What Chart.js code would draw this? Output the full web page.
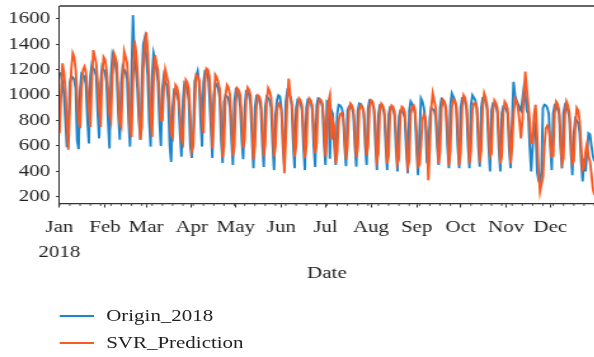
<!DOCTYPE html>
<html>
<head>
<meta charset="utf-8">
<script src="https://cdn.jsdelivr.net/npm/chart.js@4.4.1/dist/chart.umd.min.js"></script>
<style>
  html, body { margin: 0; padding: 0; background: #fff; overflow: hidden; }
  /* the reference figure is stretched horizontally, so draw narrow and widen */
  #stage { position: relative; width: 468px; height: 357px; transform: scaleX(1.27); transform-origin: 0 0; }
  #legend { position: absolute; left: 46.5px; top: 302.5px; font: 16.5px "Liberation Serif", serif; color: #231f20; }
  .item { display: flex; align-items: center; height: 27px; white-space: nowrap; }
  .swatch { width: 27.6px; height: 2px; margin-right: 9.5px; }
</style>
</head>
<body>
<div id="stage">
  <canvas id="svrChart" width="468" height="300"></canvas>
  <div id="legend"></div>
</div>
<script>
// x positions: day of year 2018 (0 = 1 Jan, a Monday)
const days = Array.from({ length: 365 }, (_, i) => i);
const monthStarts = [0, 31, 59, 90, 120, 151, 181, 212, 243, 273, 304, 334];
const monthLabels = ['Jan', 'Feb', 'Mar', 'Apr', 'May', 'Jun', 'Jul', 'Aug', 'Sep', 'Oct', 'Nov', 'Dec'];
const yearLabel = '2018';
const yTicks = [200, 400, 600, 800, 1000, 1200, 1400, 1600];

// one row per week, Mon..Sun
const origin2018 = [
  1180, 1160, 1100, 1000, 800, 590, 720,
  1100, 1150, 1140, 1120, 1050, 640, 575,
  1050, 1170, 1160, 1140, 1080, 800, 620,
  1150, 1240, 1210, 1190, 1150, 850, 660,
  1100, 1225, 1200, 1180, 1100, 800, 580,
  1150, 1320, 1280, 1250, 1150, 850, 650,
  1100, 1225, 1200, 1180, 1120, 800, 595,
  1150, 1630, 1300, 1200, 1050, 800, 650,
  1100, 1400, 1450, 1300, 1150, 800, 595,
  1150, 1330, 1280, 1200, 1100, 800, 600,
  1050, 1150, 1100, 1080, 950, 600, 475,
  900, 1040, 1030, 1000, 950, 700, 515,
  950, 1095, 1080, 1050, 950, 600, 505,
  700, 1110, 1150, 1190, 1100, 800, 595,
  1100, 1190, 1200, 1180, 1000, 750, 505,
  1000, 1095, 1080, 1050, 980, 650, 465,
  950, 1000, 990, 970, 900, 650, 450,
  950, 1040, 1020, 1000, 900, 650, 495,
  900, 1028, 1020, 1000, 930, 650, 425,
  900, 990, 980, 960, 900, 620, 435,
  900, 990, 980, 960, 900, 620, 410,
  850, 960, 1000, 990, 900, 600, 450,
  950, 1030, 1010, 990, 920, 620, 425,
  900, 960, 950, 940, 880, 600, 410,
  900, 965, 960, 950, 880, 600, 435,
  920, 975, 970, 950, 900, 620, 450,
  950, 940, 500, 880, 850, 600, 450,
  850, 925, 920, 900, 850, 600, 440,
  880, 910, 905, 900, 850, 600, 437,
  880, 935, 930, 910, 860, 610, 450,
  900, 960, 955, 940, 880, 620, 410,
  850, 920, 915, 900, 850, 600, 410,
  850, 905, 900, 890, 840, 580, 400,
  830, 880, 875, 860, 820, 560, 385,
  880, 950, 930, 900, 850, 570, 370,
  700, 975, 950, 900, 800, 477, 450,
  820, 900, 890, 880, 830, 600, 450,
  900, 970, 960, 940, 880, 600, 425,
  920, 1015, 990, 960, 900, 600, 425,
  900, 975, 970, 950, 890, 600, 425,
  920, 1000, 980, 960, 900, 600, 437,
  900, 975, 970, 950, 890, 600, 400,
  880, 935, 930, 910, 860, 580, 400,
  860, 910, 905, 890, 850, 580, 425,
  800, 1105, 1000, 960, 930, 900, 880,
  960, 1055, 1000, 880, 850, 600, 400,
  600, 800, 750, 400, 330, 305, 400,
  900, 925, 920, 900, 850, 600, 410,
  860, 920, 910, 890, 850, 580, 425,
  860, 920, 900, 880, 820, 560, 370,
  700, 815, 800, 780, 700, 480, 320,
  500, 400, 550, 700, 690, 600, 520,
  480
];

const svrPrediction = [
  700, 1000, 1250, 1180, 1050, 800, 570,
  900, 1200, 1330, 1300, 1200, 1000, 800,
  740, 1050, 1200, 1225, 1180, 1050, 900,
  750, 1100, 1355, 1300, 1250, 1100, 900,
  750, 1150, 1300, 1280, 1200, 1050, 850,
  800, 1150, 1330, 1300, 1250, 1000, 780,
  750, 1100, 1345, 1300, 1250, 1050, 750,
  670, 1100, 1430, 1350, 1200, 950, 650,
  750, 1200, 1400, 1495, 1350, 1100, 850,
  670, 1100, 1315, 1250, 1200, 1000, 800,
  800, 1050, 1200, 1150, 1100, 900, 700,
  670, 950, 1080, 1060, 1000, 850, 650,
  620, 950, 1120, 1100, 1050, 850, 560,
  600, 900, 1160, 1150, 1120, 1000, 800,
  700, 1100, 1210, 1200, 1150, 950, 580,
  800, 1160, 1140, 1100, 1050, 850, 510,
  600, 1000, 1080, 1060, 1000, 800, 520,
  600, 950, 1055, 1040, 1000, 820, 580,
  650, 960, 1060, 1040, 1000, 800, 490,
  600, 900, 1000, 990, 950, 780, 515,
  620, 950, 1055, 1030, 980, 800, 515,
  600, 880, 935, 920, 880, 700, 385,
  650, 950, 1130, 1000, 950, 800, 515,
  600, 900, 975, 960, 920, 760, 503,
  600, 900, 975, 960, 920, 760, 540,
  620, 920, 970, 960, 930, 780, 515,
  700, 950, 1000, 650, 800, 750, 465,
  550, 800, 850, 860, 820, 700, 500,
  600, 880, 935, 920, 880, 740, 515,
  580, 880, 920, 910, 870, 730, 530,
  600, 900, 960, 950, 900, 760, 490,
  540, 870, 935, 920, 880, 720, 463,
  520, 860, 920, 910, 870, 710, 463,
  500, 840, 910, 900, 860, 700, 437,
  480, 850, 910, 920, 880, 700, 437,
  450, 600, 805, 850, 820, 700, 330,
  600, 900, 1015, 960, 900, 720, 463,
  560, 900, 965, 950, 900, 740, 450,
  560, 900, 965, 960, 920, 740, 450,
  550, 900, 1000, 980, 920, 740, 463,
  560, 880, 935, 940, 900, 740, 470,
  560, 900, 1015, 980, 920, 750, 515,
  540, 880, 960, 940, 900, 720, 463,
  520, 860, 950, 930, 890, 720, 463,
  600, 850, 975, 950, 900, 800, 660,
  800, 1000, 1185, 1050, 925, 800, 620,
  620, 850, 925, 700, 400, 240, 300,
  350, 600, 740, 760, 730, 650, 515,
  520, 860, 950, 930, 880, 700, 463,
  500, 850, 950, 920, 860, 680, 463,
  480, 750, 900, 880, 800, 600, 411,
  430, 560, 620, 520, 480, 380, 260,
  215
];

const seriesNames = ['Origin_2018', 'SVR_Prediction'];
const seriesColors = ['#1c86cc', '#f95a22'];

const textColor = '#231f20';
const axisColor = '#333333';
const serif = '"Liberation Serif", "Times New Roman", serif';

// top spine + weekly minor ticks like the matplotlib date axis
const framePlugin = {
  id: 'frame',
  afterDraw(chart) {
    const { ctx, chartArea } = chart;
    const x = chart.scales.x;
    ctx.save();
    ctx.strokeStyle = axisColor;
    ctx.lineWidth = 1.3;
    ctx.beginPath();
    ctx.moveTo(chartArea.left, chartArea.top);
    ctx.lineTo(chartArea.right, chartArea.top);
    ctx.stroke();
    ctx.lineWidth = 0.8;
    ctx.beginPath();
    for (let d = 0; d < days.length; d += 7) {
      const px = x.getPixelForValue(d);
      ctx.moveTo(px, chartArea.bottom);
      ctx.lineTo(px, chartArea.bottom + 2);
    }
    ctx.stroke();
    ctx.restore();
  }
};

const ctx = document.getElementById('svrChart').getContext('2d');
const svrChart = new Chart(ctx, {
  type: 'line',
  data: {
    labels: days,
    datasets: [
      { label: seriesNames[0], data: origin2018, borderColor: seriesColors[0], order: 2 },
      { label: seriesNames[1], data: svrPrediction, borderColor: seriesColors[1], order: 1 }
    ]
  },
  options: {
    responsive: false,
    animation: false,
    devicePixelRatio: 1,
    layout: { padding: { top: 6, right: 0, bottom: 0, left: 0 } },
    elements: {
      line: { borderWidth: 1.9, tension: 0, fill: false },
      point: { radius: 0 }
    },
    plugins: {
      legend: { display: false },
      tooltip: { enabled: false }
    },
    scales: {
      x: {
        type: 'linear',
        min: 0,
        max: days.length - 1,
        afterBuildTicks: (scale) => { scale.ticks = monthStarts.map(v => ({ value: v })); },
        afterFit: (scale) => { scale.height = 96; },
        ticks: {
          autoSkip: false,
          maxRotation: 0,
          padding: 8,
          color: textColor,
          font: { family: serif, size: 16.5, lineHeight: 1.5 },
          callback: (value) => {
            const i = monthStarts.indexOf(value);
            return i === 0 ? [monthLabels[i], yearLabel] : monthLabels[i];
          }
        },
        grid: { drawOnChartArea: false, drawTicks: true, tickLength: 3.5, color: axisColor, lineWidth: 1 },
        border: { display: true, color: axisColor, width: 1.3 },
        title: {
          display: true,
          text: 'Date',
          color: textColor,
          font: { family: serif, size: 16.5, lineHeight: 1.2 },
          padding: { top: 0, bottom: 16 }
        }
      },
      y: {
        min: 143,
        max: 1702,
        afterBuildTicks: (scale) => { scale.ticks = yTicks.map(v => ({ value: v })); },
        afterFit: (scale) => {
          scale.width = 46.85;
          scale.paddingTop = 0;
          scale.paddingBottom = 0;
        },
        ticks: {
          padding: 4.6,
          color: textColor,
          font: { family: serif, size: 16.5 },
          callback: (value) => String(value)
        },
        grid: { drawOnChartArea: false, drawTicks: true, tickLength: 2.8, color: axisColor, lineWidth: 1 },
        border: { display: true, color: axisColor, width: 1 }
      }
    }
  },
  plugins: [framePlugin]
});

// legend below the plot, one entry per row
const legend = document.getElementById('legend');
svrChart.data.datasets.forEach((ds) => {
  const item = document.createElement('div');
  item.className = 'item';
  const sw = document.createElement('span');
  sw.className = 'swatch';
  sw.style.background = ds.borderColor;
  const label = document.createElement('span');
  label.textContent = ds.label;
  item.appendChild(sw);
  item.appendChild(label);
  legend.appendChild(item);
});
</script>
</body>
</html>
